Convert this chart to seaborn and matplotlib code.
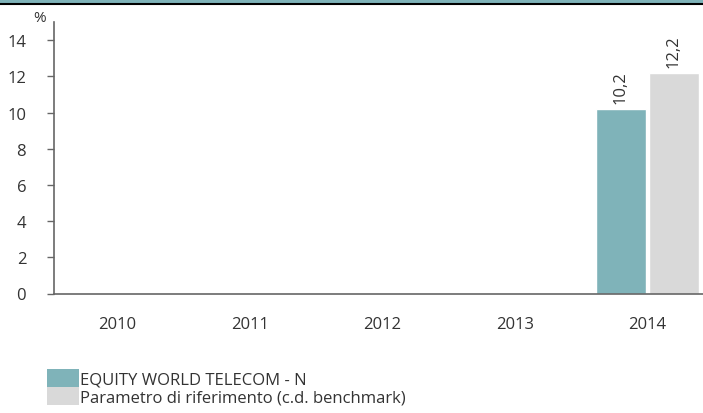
import matplotlib
matplotlib.use("Agg")
import matplotlib.pyplot as plt
import seaborn as sns
import pandas as pd
import numpy as np
from matplotlib.patches import Patch, Rectangle
from matplotlib.lines import Line2D

years = ["2010", "2011", "2012", "2013", "2014"]
fund = [np.nan, np.nan, np.nan, np.nan, 10.2]
bench = [np.nan, np.nan, np.nan, np.nan, 12.2]
series_names = ["EQUITY WORLD TELECOM - N", "Parametro di riferimento (c.d. benchmark)"]
colors = ["#7fb3b9", "#d9d9d9"]
yticks = [0, 2, 4, 6, 8, 10, 12, 14]

df = pd.DataFrame({
    "year": years * 2,
    "value": fund + bench,
    "series": [series_names[0]] * len(years) + [series_names[1]] * len(years),
})

sns.set_theme(style="white")
plt.rcParams["font.family"] = ["Open Sans", "DejaVu Sans"]

FS = 12

fig = plt.figure(figsize=(7.03, 4.14), dpi=100)
ax = fig.add_axes([54 / 703, 1 - 294.5 / 414, 1 - 54 / 703, (294.5 - 23) / 414])

sns.barplot(data=df, x="year", y="value", hue="series", order=years,
            hue_order=series_names, palette=colors, width=0.8, gap=0.06,
            errorbar=None, ax=ax, legend=False, saturation=1)

ax.set_xlim(-0.48, 4.42)
ax.set_ylim(0, 15)
ax.set_yticks(yticks)
ax.set_xlabel("")
ax.set_ylabel("")
for s in ["top", "right"]:
    ax.spines[s].set_visible(False)
for s in ["left", "bottom"]:
    ax.spines[s].set_color("#666666")
    ax.spines[s].set_linewidth(1.2)
ax.tick_params(axis="y", length=5, width=1, color="#666666", pad=15,
               labelsize=FS, labelcolor="#333333", left=True)
ax.tick_params(axis="x", length=0, pad=16, labelsize=FS, labelcolor="#333333")

for cont in ax.containers:
    labels = ["" if np.isnan(b.get_height()) else f"{b.get_height():.1f}".replace(".", ",")
              for b in cont]
    ax.bar_label(cont, labels=labels, rotation=90, padding=4, fontsize=FS, color="#333333")

fig.text(40 / 703, 1 - 19 / 414, "%", fontsize=11, color="#333333", ha="center", va="center")

# top decorative band
fig.patches.append(Rectangle((0, 1 - 4 / 414), 1, 4 / 414, transform=fig.transFigure,
                             facecolor="#7fb3b9", edgecolor="none"))
fig.lines.append(Line2D([0, 1], [1 - 5 / 414, 1 - 5 / 414], transform=fig.transFigure,
                        color="black", linewidth=1.5))

handles = [Patch(facecolor=c, edgecolor="none") for c in colors]
fig.legend(handles, series_names, loc="upper left", bbox_to_anchor=(47 / 703, 1 - 370 / 414),
           frameon=False, fontsize=FS, handlelength=1.92, handleheight=1.25,
           handletextpad=0.08, labelspacing=0.0, borderpad=0, borderaxespad=0,
           labelcolor="#333333")
leg = fig.legends[0]
for p in leg.get_patches():
    p.set_height(p.get_height() * 1.0)

fig.savefig("out.png", dpi=100)
